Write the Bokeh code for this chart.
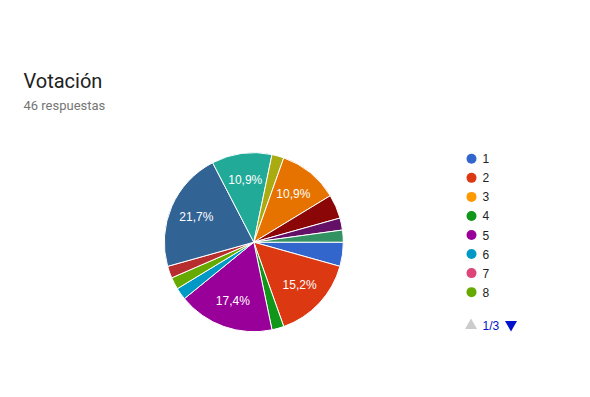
import numpy as np
from bokeh.plotting import figure
from bokeh.models import ColumnDataSource, Range1d
from bokeh.transform import cumsum
from bokeh.embed import file_html
from bokeh.resources import INLINE
from bokeh.core.properties import value

title = "Votación"
subtitle = "46 respuestas"
categories = [str(i) for i in range(1, 19)]
counts = [2, 7, 0, 1, 8, 1, 0, 1, 1, 10, 0, 5, 1, 0, 5, 2, 1, 1]
colors = ["#3366cc", "#dc3912", "#ff9900", "#109618", "#990099", "#0099c6",
          "#dd4477", "#66aa00", "#b82e2e", "#316395", "#994499", "#22aa99",
          "#aaaa11", "#6633cc", "#e67300", "#8b0707", "#651067", "#329262"]
legend_page = "1/3"
legend_per_page = 8

W, H = 574, 381
OFF = 0


def px(x):
    return x - OFF


def py(y):
    return H - (y - OFF)


p = figure(width=W, height=H, x_range=Range1d(0, W), y_range=Range1d(0, H),
           output_backend="svg", toolbar_location=None, min_border=0)
p.axis.visible = False
p.grid.visible = False
p.outline_line_color = None
p.background_fill_color = "white"
p.border_fill_color = "white"

total = sum(counts)
idx = [i for i, c in enumerate(counts) if c > 0]
angles = [-counts[i] / total * 2 * np.pi for i in idx]
cx, cy = px(253.3), py(241.7)
R = 89.5

src = ColumnDataSource(dict(angle=angles, color=[colors[i] for i in idx],
                            cat=[categories[i] for i in idx]))
p.wedge(x=cx, y=cy, radius=R, radius_units="screen",
        start_angle=cumsum("angle", include_zero=True), end_angle=cumsum("angle"),
        direction="clock", fill_color="color", line_color="white", line_width=1,
        source=src)

# slice labels
cum = np.cumsum([0] + angles[:-1])
lx, ly, lt = [], [], []
for a0, a, i in zip(cum, angles, idx):
    frac = counts[i] / total
    if frac < 0.08:
        continue
    mid = a0 + a / 2
    lx.append(cx + 0.7 * R * np.cos(mid))
    ly.append(cy + 0.7 * R * np.sin(mid))
    lt.append(f"{frac * 100:.1f}".replace(".", ",") + "%")
p.text(x=lx, y=ly, text=lt, text_color="white", text_font=value("Liberation Sans"),
       text_font_size="12px", text_align="center", text_baseline="middle")

# title
p.text(x=[px(23)], y=[py(80)], text=[title], text_color="#212121",
       text_font=value("Roboto"), text_font_size="20px", text_baseline="alphabetic")
p.text(x=[px(23)], y=[py(105)], text=[subtitle], text_color="#757575",
       text_font=value("Roboto"), text_font_size="13px", text_baseline="alphabetic")

# legend
leg_y = [py(158.3 + k * 19.05) for k in range(legend_per_page)]
leg = ColumnDataSource(dict(x=[px(471)] * legend_per_page, y=leg_y,
                            tx=[px(482)] * legend_per_page,
                            color=colors[:legend_per_page],
                            cat=categories[:legend_per_page]))
p.scatter(x="x", y="y", size=10, fill_color="color", line_color=None, source=leg)
p.text(x="tx", y="y", text="cat", text_color="#222222", text_font=value("Liberation Sans"),
       text_font_size="12px", text_baseline="middle", source=leg)

# pagination
p.scatter(x=[px(470.5)], y=[py(325)], marker="triangle", size=12,
          fill_color="#cccccc", line_color=None)
p.text(x=[px(482)], y=[py(325)], text=[legend_page], text_color="#0011cc",
       text_font=value("Liberation Sans"), text_font_size="12px", text_baseline="middle")
p.scatter(x=[px(510.5)], y=[py(324)], marker="inverted_triangle", size=12,
          fill_color="#0011cc", line_color=None)

open("out.html", "w").write(file_html(p, INLINE))
